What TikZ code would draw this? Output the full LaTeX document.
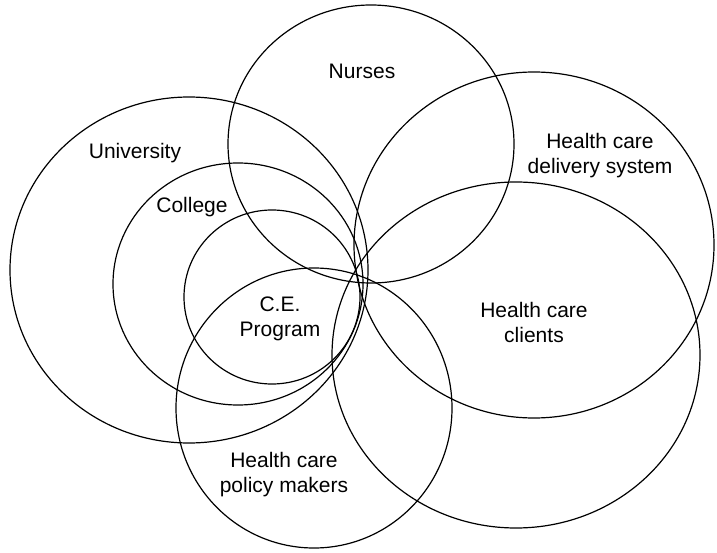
\documentclass[tikz,border=0pt]{standalone}
\usepackage{fontspec}
\setmainfont{Liberation Sans}

\begin{document}
\begin{tikzpicture}[x=1pt,y=-1pt]
        \useasboundingbox (0,0) rectangle (717,553);

        \begin{scope}[every path/.style={draw, black, line width=1.2pt}]
                \path (189,270) ellipse [x radius=179pt, y radius=173pt];  % University
                \path (238,284) ellipse [x radius=125pt, y radius=121pt];  % College
                \path (272,297) ellipse [x radius=88pt, y radius=87pt];    % C.E. Program
                \path (371,144) ellipse [x radius=143pt, y radius=139pt];  % Nurses
                \path (534,245) ellipse [x radius=180pt, y radius=173pt];  % delivery system
                \path (516,355) ellipse [x radius=184pt, y radius=173pt];  % clients
                \path (314,408) ellipse [x radius=138pt, y radius=140pt];  % policy makers
        \end{scope}

        \begin{scope}[every node/.style={align=center, inner sep=0, font=\fontsize{21}{25}\selectfont}]
                \node (Un) at (135,153) {University};
                \node (Co) at (192,207) {College};
                \node (CE) at (280,319) {C.E.\\Program};
                \node (Nu) at (362,71) {Nurses};
                \node (De) at (600,156) {Health care\\delivery system};
                \node (Cl) at (534,322) {Health care\\clients};
                \node (Po) at (284,475) {Health care\\policy makers};
        \end{scope}
\end{tikzpicture}
\end{document}
